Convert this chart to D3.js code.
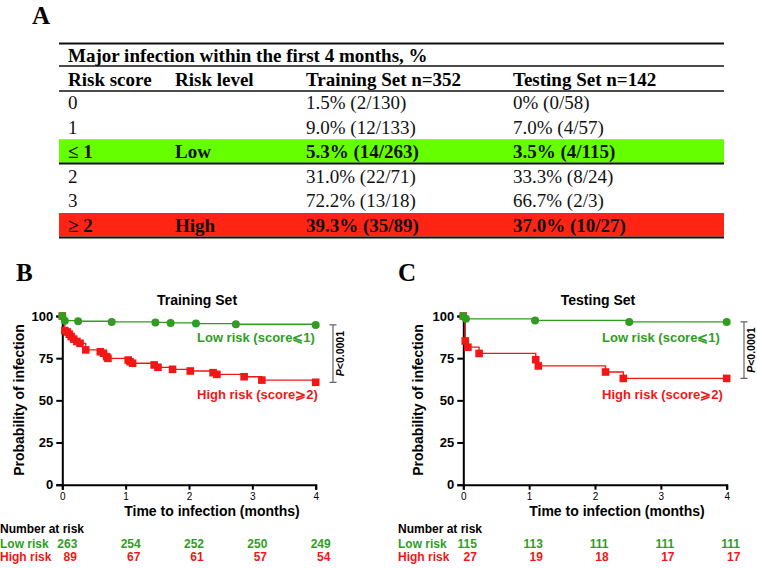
<!DOCTYPE html>
<html>
<head>
<meta charset="utf-8">
<script src="https://cdn.jsdelivr.net/npm/d3@7"></script>
<style>
  body { margin: 0; background: #fff; }
  svg { display: block; }
</style>
</head>
<body>
<div id="chart"></div>
<script>
// ---- table data (panel A)
var tableTitle = "Major infection within the first 4 months, %";
var tableHeader = ["Risk score", "Risk level", "Training Set n=352", "Testing Set n=142"];
var riskScores = ["0", "1", "\u2264 1", "2", "3", "\u2265 2"];
var riskLevels = ["", "", "Low", "", "", "High"];
var trainingPct = ["1.5% (2/130)", "9.0% (12/133)", "5.3% (14/263)", "31.0% (22/71)", "72.2% (13/18)", "39.3% (35/89)"];
var testingPct = ["0% (0/58)", "7.0% (4/57)", "3.5% (4/115)", "33.3% (8/24)", "66.7% (2/3)", "37.0% (10/27)"];
var rowBand = [null, null, "low", null, null, "high"];

// ---- Kaplan-Meier curves (months, % probability)
var trainLowT = [0, 0.04, 0.25, 0.78, 1.47, 1.71, 2.11, 2.74, 4.0];
var trainLowS = [100, 97.2, 96.9, 96.5, 96.2, 95.9, 95.5, 95.1, 94.7];
var trainHighT = [0, 0.04, 0.08, 0.11, 0.14, 0.18, 0.23, 0.28, 0.37, 0.60, 0.65, 0.70, 0.72, 1.04, 1.07, 1.11, 1.45, 1.51, 1.74, 2.02, 2.38, 2.44, 2.87, 3.15, 4.0];
var trainHighS = [100, 91.3, 90.5, 89.2, 87.8, 86.3, 84.9, 83.8, 79.9, 78.8, 77.9, 75.9, 74.9, 73.9, 72.9, 72.0, 71.0, 69.6, 68.4, 67.4, 66.4, 65.4, 64.0, 62.0, 60.7];
var testLowT = [0, 0.04, 1.09, 2.52, 4.0];
var testLowS = [100, 98.3, 97.4, 96.5, 96.5];
var testHighT = [0, 0.03, 0.07, 0.24, 1.10, 1.14, 2.16, 2.43, 4.0];
var testHighS = [100, 85.2, 81.5, 77.8, 74.1, 70.4, 66.8, 63.0, 63.0];

// number at risk at months 0..4
var riskTimes = [0, 1, 2, 3, 4];
var trainAtRiskLow = [263, 254, 252, 250, 249];
var trainAtRiskHigh = [89, 67, 61, 57, 54];
var testAtRiskLow = [115, 113, 111, 111, 111];
var testAtRiskHigh = [27, 19, 18, 17, 17];

var yTicks = [0, 25, 50, 75, 100];

var green = "#2f9e1f", red = "#f21616";
var sans = "Liberation Sans, Arial, sans-serif";
var serif = "Liberation Serif, Times New Roman, serif";

var svg = d3.select("#chart").append("svg")
  .attr("width", 757)
  .attr("height", 568);

// panel letters
function letter(txt, x, y) {
  svg.append("text").attr("x", x).attr("y", y).text(txt)
    .attr("font-family", serif).attr("font-weight", "bold").attr("font-size", 25);
}
letter("A", 32, 24);
letter("B", 16, 281);
letter("C", 398, 281);

/* TABLE */
var tblX0 = 59, tblX1 = 724;
var colX = [68, 175, 306, 513];
var rowY = d3.scaleLinear().domain([0, 1]).range([109, 133.6]);

// coloured bands
rowBand.forEach(function(b, i) {
  if (!b) return;
  svg.append("rect")
    .attr("x", tblX0).attr("width", tblX1 - tblX0)
    .attr("y", rowY(i) - 19).attr("height", 23.5)
    .attr("fill", b == "low" ? "#66ff00" : "#ff2414");
});

// rules
[[43.5, 2.2], [66, 1.5], [91, 1.5], [163.5, 2], [237.5, 2]].forEach(function(r) {
  svg.append("line").attr("x1", tblX0).attr("x2", tblX1)
    .attr("y1", r[0]).attr("y2", r[0])
    .attr("stroke", "#111").attr("stroke-width", r[1]);
});

svg.append("text").attr("x", colX[0] - 0).attr("y", 62).text(tableTitle)
  .attr("font-family", serif).attr("font-weight", "bold").attr("font-size", 19);

tableHeader.forEach(function(h, i) {
  svg.append("text").attr("x", colX[i]).attr("y", 86).text(h)
    .attr("font-family", serif).attr("font-weight", "bold").attr("font-size", 19);
});

var tableCols = [riskScores, riskLevels, trainingPct, testingPct];
tableCols.forEach(function(col, c) {
  svg.selectAll(null).data(col).enter().append("text")
    .attr("x", colX[c])
    .attr("y", function(d, i) { return rowY(i); })
    .attr("font-family", serif)
    .attr("font-size", 19)
    .attr("font-weight", function(d, i) { return rowBand[i] ? "bold" : "normal"; })
    .attr("fill", "#111")
    .text(function(d) { return d; });
});

/* KM PANELS */
function drawPanel(o) {
  var x = d3.scaleLinear().domain([0, 4]).range([o.x0, o.x1]);
  var y = d3.scaleLinear().domain([0, 100]).range([484.7, 316]);
  var g = svg.append("g");

  // title
  g.append("text").attr("x", o.titleX).attr("y", 305).attr("text-anchor", "middle")
    .text(o.title).attr("font-family", sans).attr("font-weight", "bold").attr("font-size", 14);

  // y axis
  var ya = g.append("g").attr("transform", "translate(" + o.x0 + ",0)")
    .call(d3.axisLeft(y).tickValues(yTicks).tickSize(6).tickPadding(3));
  ya.select(".domain").attr("stroke", "#000").attr("stroke-width", 2);
  ya.selectAll(".tick line").attr("stroke", "#000").attr("stroke-width", 2);
  ya.selectAll("text").attr("font-family", sans).attr("font-weight", "bold")
    .attr("font-size", 13).attr("fill", "#000");

  // x axis
  var xa = g.append("g").attr("transform", "translate(0,484.7)")
    .call(d3.axisBottom(x).tickValues([0, 1, 2, 3, 4]).tickSize(5).tickPadding(3).tickFormat(d3.format("d")));
  xa.select(".domain").attr("stroke", "#000").attr("stroke-width", 2);
  xa.selectAll(".tick line").attr("stroke", "#000").attr("stroke-width", 2);
  xa.selectAll("text").attr("font-family", sans).attr("font-size", 10).attr("fill", "#000");

  g.append("text")
    .attr("transform", "translate(" + o.yLabX + ",400) rotate(-90)")
    .attr("text-anchor", "middle")
    .text("Probability of infection")
    .attr("font-family", sans).attr("font-weight", "bold").attr("font-size", 14);

  g.append("text").attr("x", o.xLabX).attr("y", 516).attr("text-anchor", "middle")
    .text("Time to infection (months)")
    .attr("font-family", sans).attr("font-weight", "bold").attr("font-size", 14);

  var line = d3.line()
    .x(function(d) { return x(d[0]); })
    .y(function(d) { return y(d[1]); })
    .curve(d3.curveStepAfter);

  var low = d3.zip(o.lowT, o.lowS), high = d3.zip(o.highT, o.highS);

  g.append("path").datum(high).attr("d", line)
    .attr("fill", "none").attr("stroke", red).attr("stroke-width", 1.3);
  g.append("path").datum(low).attr("d", line)
    .attr("fill", "none").attr("stroke", green).attr("stroke-width", 1.3);

  g.selectAll(null).data(high).enter().append("rect")
    .attr("x", function(d) { return x(d[0]) - 3.8; })
    .attr("y", function(d) { return y(d[1]) - 3.8; })
    .attr("width", 7.6).attr("height", 7.6)
    .attr("fill", red);
  g.selectAll(null).data(low).enter().append("circle")
    .attr("cx", function(d) { return x(d[0]); })
    .attr("cy", function(d) { return y(d[1]); })
    .attr("r", 4)
    .attr("fill", green);

  // curve labels
  g.append("text").attr("x", o.labX).attr("y", 342).text("Low risk (score\u2A7D1)")
    .attr("fill", green).attr("font-family", sans).attr("font-weight", "bold").attr("font-size", 13);
  g.append("text").attr("x", o.labX).attr("y", 399).text("High risk (score\u2A7E2)")
    .attr("fill", red).attr("font-family", sans).attr("font-weight", "bold").attr("font-size", 13);

  // p-value bracket
  var yTop = y(o.lowS[o.lowS.length - 1]), yBot = y(o.highS[o.highS.length - 1]);
  var bx = o.bracketX;
  g.append("path")
    .attr("d", "M" + (bx - 3.5) + "," + yTop + "H" + (bx + 3.5) + "M" + bx + "," + yTop +
      "V" + yBot + "M" + (bx - 3.5) + "," + yBot + "H" + (bx + 3.5))
    .attr("fill", "none").attr("stroke", "#666").attr("stroke-width", 1.2);
  var pt = g.append("text")
    .attr("transform", "translate(" + (bx + 11) + "," + ((yTop + yBot) / 2) + ") rotate(-90)")
    .attr("text-anchor", "middle")
    .attr("font-family", sans).attr("font-size", 10.5).attr("font-weight", "bold");
  pt.append("tspan").attr("font-style", "italic").text("P");
  pt.append("tspan").text("<0.0001");

  // number at risk
  g.append("text").attr("x", o.riskX).attr("y", 533).text("Number at risk")
    .attr("font-family", sans).attr("font-weight", "bold").attr("font-size", 12);
  g.append("text").attr("x", o.riskX).attr("y", 548).text("Low risk")
    .attr("fill", green).attr("font-family", sans).attr("font-weight", "bold").attr("font-size", 12);
  g.append("text").attr("x", o.riskX).attr("y", 561).text("High risk")
    .attr("fill", red).attr("font-family", sans).attr("font-weight", "bold").attr("font-size", 12);
  g.selectAll(null).data(o.atRiskLow).enter().append("text")
    .attr("x", function(d, i) { return x(riskTimes[i]) + o.nOff; })
    .attr("y", 548).attr("text-anchor", "middle").text(function(d) { return d; })
    .attr("fill", green).attr("font-family", sans).attr("font-weight", "bold").attr("font-size", 12);
  g.selectAll(null).data(o.atRiskHigh).enter().append("text")
    .attr("x", function(d, i) { return x(riskTimes[i]) + o.nOff + 3; })
    .attr("y", 561).attr("text-anchor", "middle").text(function(d) { return d; })
    .attr("fill", red).attr("font-family", sans).attr("font-weight", "bold").attr("font-size", 12);
}

drawPanel({
  title: "Training Set", titleX: 197, x0: 62.3, x1: 315.7, yLabX: 24, xLabX: 212,
  lowT: trainLowT, lowS: trainLowS, highT: trainHighT, highS: trainHighS,
  labX: 197, bracketX: 333, riskX: 0, nOff: 5,
  atRiskLow: trainAtRiskLow, atRiskHigh: trainAtRiskHigh
});
drawPanel({
  title: "Testing Set", titleX: 598, x0: 463.3, x1: 726.7, yLabX: 423, xLabX: 617,
  lowT: testLowT, lowS: testLowS, highT: testHighT, highS: testHighS,
  labX: 602, bracketX: 744, riskX: 398, nOff: 4,
  atRiskLow: testAtRiskLow, atRiskHigh: testAtRiskHigh
});
</script>
</body>
</html>
